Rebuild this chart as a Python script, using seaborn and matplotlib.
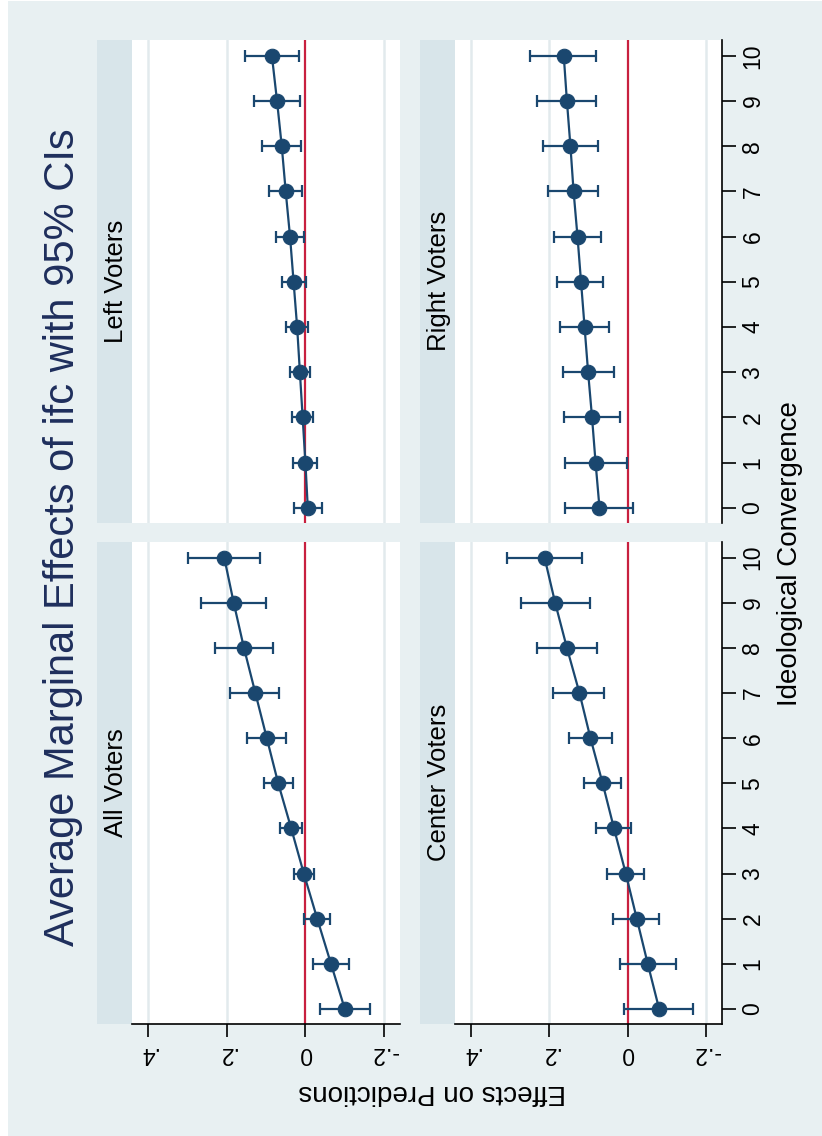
import numpy as np
import pandas as pd
import matplotlib
matplotlib.use("Agg")
import matplotlib.pyplot as plt
import seaborn as sns
from matplotlib.patches import Rectangle

# --- Datos (efecto marginal medio y IC 95%) ---
conv = list(range(11))

all_est = [-0.100, -0.065, -0.030, 0.004, 0.036, 0.069, 0.098, 0.127, 0.156, 0.182, 0.206]
all_lo = [-0.163, -0.111, -0.063, -0.022, 0.009, 0.031, 0.048, 0.066, 0.083, 0.099, 0.115]
all_hi = [-0.038, -0.019, 0.003, 0.029, 0.064, 0.106, 0.149, 0.191, 0.229, 0.266, 0.298]

left_est = [-0.006, 0.000, 0.007, 0.014, 0.021, 0.030, 0.039, 0.050, 0.060, 0.072, 0.085]
left_lo = [-0.042, -0.029, -0.020, -0.012, -0.007, -0.002, 0.003, 0.008, 0.010, 0.013, 0.016]
left_hi = [0.029, 0.031, 0.034, 0.040, 0.050, 0.060, 0.075, 0.092, 0.110, 0.131, 0.154]

center_est = [-0.080, -0.051, -0.023, 0.005, 0.035, 0.064, 0.095, 0.123, 0.155, 0.185, 0.212]
center_lo = [-0.167, -0.123, -0.079, -0.042, -0.008, 0.018, 0.041, 0.060, 0.079, 0.097, 0.117]
center_hi = [0.009, 0.020, 0.037, 0.053, 0.080, 0.112, 0.150, 0.190, 0.231, 0.271, 0.307]

right_est = [0.072, 0.082, 0.091, 0.101, 0.110, 0.119, 0.128, 0.138, 0.146, 0.155, 0.163]
right_lo = [-0.014, 0.002, 0.020, 0.036, 0.048, 0.062, 0.068, 0.075, 0.077, 0.081, 0.081]
right_hi = [0.159, 0.161, 0.162, 0.166, 0.172, 0.179, 0.189, 0.202, 0.215, 0.231, 0.249]

effect_ticks = [0.4, 0.2, 0, -0.2]
effect_labels = [".4", ".2", "0", "-.2"]

# --- Estilo ---
sns.set_theme(style="white")
plt.rcParams['font.family'] = ['Liberation Sans', 'DejaVu Sans']

BG = "#E8F0F2"
STRIP = "#D8E5EA"
NAVY = "#1A476F"
RED = "#C8203F"
GRID = "#E2EAED"
TITLE = "#1E2E5C"

W, H = 822, 1136
fig = plt.figure(figsize=(W / 100, H / 100), dpi=100, facecolor="white")
fig.patches.append(Rectangle((8 / W, 0), 1 - 8 / W, 1 - 1 / H, transform=fig.transFigure,
                             facecolor=BG, edgecolor="none", zorder=-10))


def px_axes(x0, y0, x1, y1):
    # coordenadas en pixeles (origen arriba a la izquierda)
    return fig.add_axes([x0 / W, 1 - y1 / H, (x1 - x0) / W, (y1 - y0) / H])


# (titulo, est, lo, hi, x strip, x fin, y0, y1, eje abajo, eje derecha)
panels = [
    ("Left Voters", left_est, left_lo, left_hi, 97, 400, 40, 522.7, False, False),
    ("All Voters", all_est, all_lo, all_hi, 97, 400, 541.7, 1024, True, False),
    ("Right Voters", right_est, right_lo, right_hi, 420, 722, 40, 522.7, False, True),
    ("Center Voters", center_est, center_lo, center_hi, 420, 722, 541.7, 1024, True, True),
]

for label, est, lo, hi, xs, xe, y0, y1, bottom, right in panels:
    strip = px_axes(xs, y0, xs + 35, y1)
    strip.set_facecolor(STRIP)
    strip.set_xticks([])
    strip.set_yticks([])
    for s in strip.spines.values():
        s.set_visible(False)
    strip.text(0.55, 0.5, label, rotation=90, ha="center", va="center",
               transform=strip.transAxes, fontsize=18.5, color="black")

    ax = px_axes(xs + 35, y0, xe, y1)
    ax.set_facecolor("white")
    est_a = np.array(est)
    df = pd.DataFrame({"conv": conv, "est": est})

    for g in [0.4, 0.2, -0.2]:
        ax.axvline(g, color=GRID, lw=1.8, zorder=1)
    ax.axvline(0, color=RED, lw=1.6, zorder=2)

    ax.errorbar(est_a, conv, xerr=[est_a - np.array(lo), np.array(hi) - est_a],
                fmt="none", ecolor=NAVY, elinewidth=1.6, capsize=4, capthick=1.6, zorder=3)
    sns.lineplot(data=df, x="est", y="conv", orient="y", sort=False, color=NAVY,
                 lw=1.6, marker="o", markersize=10.5, markeredgecolor=NAVY, ax=ax, zorder=4)

    ax.set_xlim(0.44, -0.24)
    ax.set_ylim(-0.33, 10.35)
    ax.set_xlabel("")
    ax.set_ylabel("")
    for s in ax.spines.values():
        s.set_visible(False)

    if bottom:
        ax.spines["bottom"].set_visible(True)
        ax.spines["bottom"].set_color("black")
        ax.spines["bottom"].set_linewidth(1.2)
        ax.set_xticks(effect_ticks)
        ax.set_xticklabels(effect_labels)
        ax.tick_params(axis="x", bottom=True, direction="out", length=9, width=1.2,
                       color="black", labelsize=16.5, labelcolor="black", pad=4,
                       labelrotation=180)
    else:
        ax.set_xticks([])

    if right:
        ax.spines["right"].set_visible(True)
        ax.spines["right"].set_color("black")
        ax.spines["right"].set_linewidth(1.2)
        ax.yaxis.tick_right()
        ax.set_yticks(conv)
        ax.tick_params(axis="y", right=True, left=False, direction="out", length=10,
                       width=1.2, color="black", labelsize=16.5, labelcolor="black",
                       pad=4, labelrotation=90)
        for t in ax.get_yticklabels():
            t.set_va("center")
    else:
        ax.set_yticks([])

fig.text(63 / W, 1 - 537 / H, "Average Marginal Effects of ifc with 95% CIs", rotation=90,
         ha="center", va="center", fontsize=30, color=TITLE)
fig.text(790 / W, 1 - 554 / H, "Ideological Convergence", rotation=90,
         ha="center", va="center", fontsize=20, color="black")
fig.text(432 / W, 1 - 1092 / H, "Effects on Predictions", rotation=180,
         ha="center", va="center", fontsize=20, color="black")

fig.savefig("out.png", dpi=100, facecolor=fig.get_facecolor())
